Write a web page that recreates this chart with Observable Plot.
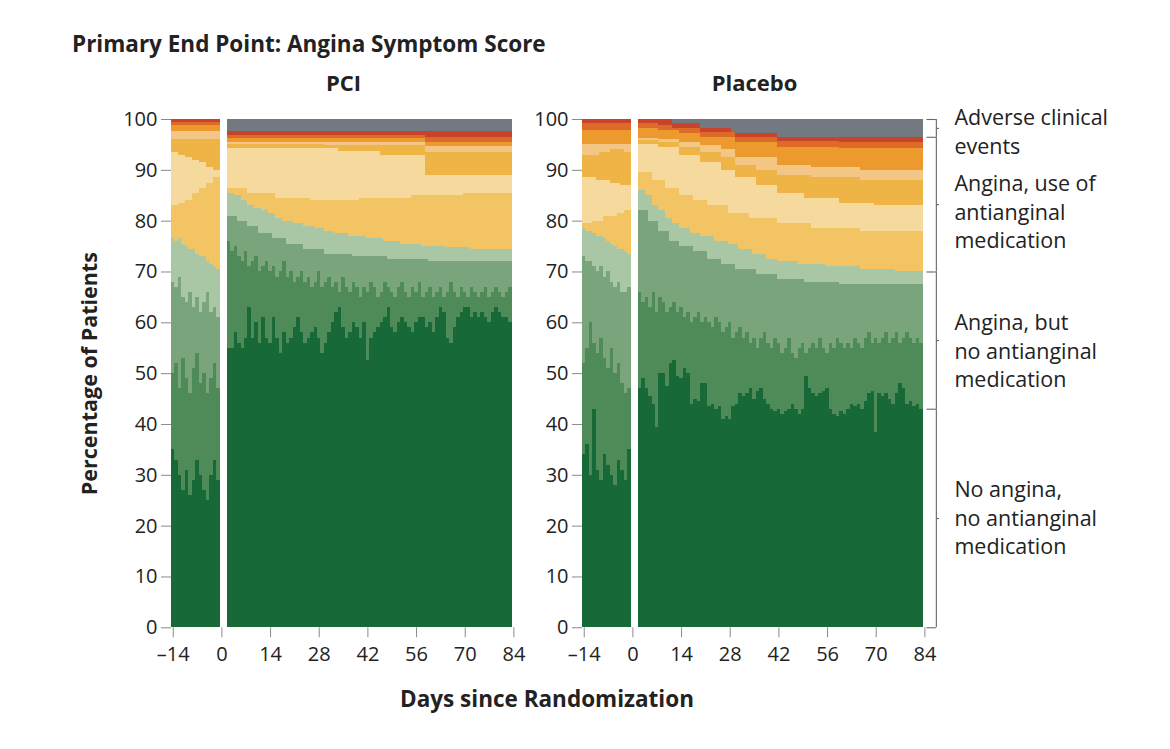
<!DOCTYPE html>
<html>
<head>
<meta charset="utf-8">
<script src="https://cdn.jsdelivr.net/npm/d3@7"></script>
<script src="https://cdn.jsdelivr.net/npm/@observablehq/plot@0.6"></script>
<style>
  html, body { margin: 0; padding: 0; background: #fff; }
  #wrap { position: relative; width: 1170px; height: 749px; overflow: hidden;
          font-family: "Open Sans", "Noto Sans", sans-serif; color: #222; }
  .abs { position: absolute; white-space: nowrap; line-height: 26px; }
  #title { left: 72px; top: 31px; font-weight: 700; font-size: 22.5px; }
  #xlabel { left: 547px; top: 686px; transform: translateX(-50%); font-weight: 700; font-size: 22.5px; }
</style>
</head>
<body>
<div id="wrap">
  <div id="title" class="abs">Primary End Point: Angina Symptom Score</div>
  <div id="xlabel" class="abs">Days since Randomization</div>
</div>
<script>
// ---------------- DATA ----------------
const panelTitles = ["PCI", "Placebo"];
const xTicks = [-14, 0, 14, 28, 42, 56, 70, 84];
const yTicks = [0, 10, 20, 30, 40, 50, 60, 70, 80, 90, 100];
const legendLabels = [
  "Adverse clinical\nevents",
  "Angina, use of\nantianginal\nmedication",
  "Angina, but\nno antianginal\nmedication",
  "No angina,\nno antianginal\nmedication"
];
// bands, bottom to top
const bandNames = [
  "No angina", "No med, low", "No med, mid", "No med, high",
  "Med 1", "Med 2", "Med 3", "Med 4", "Med 5", "Med 6", "Med 7",
  "Adverse clinical event"
];
const preDays = [-14, -13, -12, -11, -10, -9, -8, -7, -6, -5, -4, -3, -2, -1];
const postDays = d3.range(2, 84); // days 2..83

// cumulative tops (percent)
// PCI, run-in period
const pciPreNoAngina = [35, 33, 30, 27, 31, 26, 29, 33, 30, 27, 25, 30, 33, 29];
const pciPreNoMedLow = [50, 52, 47, 53, 49, 46, 51, 54, 48, 50, 46, 49, 52, 47];
const pciPreNoMedMid = [68, 67, 69, 65, 64, 66, 63, 65, 62, 64, 66, 62, 63, 61];
const pciPreNoMedHigh = [76.5, 76, 76.5, 75.5, 75, 74.5, 74.5, 73.5, 73, 73, 72, 71.5, 71, 70.5];
const pciPreMedRuns = [
  [[-14, 83], [-12, 83.5], [-10, 84], [-8, 85.5], [-6, 86.5], [-4, 87.5], [-2, 88.5]],
  [[-14, 93.5], [-12, 93], [-10, 92.5], [-8, 92], [-6, 91.5], [-4, 90.5], [-2, 90]],
  [[-14, 96]],
  [[-14, 97.6]],
  [[-14, 98.9]],
  [[-14, 99.5]],
  [[-14, 100]]
];
// PCI, after randomization
const pciPostNoAngina = [
  55, 55, 58, 56, 55, 57, 63, 57, 60, 56,
  61, 57, 56, 61, 57, 54, 58, 56, 57, 59,
  61, 58, 56, 57, 58, 59, 57, 54, 56, 58,
  60, 62, 63, 59, 57, 58, 60, 59, 57, 60,
  52.5, 57, 58, 59, 60, 61, 63, 59, 58, 60,
  61, 60, 59, 58, 60, 61, 61, 59, 60, 58,
  61, 63, 62, 57, 56, 59, 61, 62, 63, 63,
  61, 62, 61, 62, 61, 60, 62, 63, 62, 61,
  61, 60];
const pciPostNoMedLow = [
  76, 74, 75, 73, 72, 74, 71, 72, 73, 70,
  71, 72, 70, 71, 69, 70, 72, 69, 70, 68,
  69, 70, 68, 69, 67, 68, 70, 67, 68, 69,
  67, 68, 66, 69, 67, 66, 68, 67, 65, 67,
  66, 68, 67, 65, 66, 68, 67, 66, 65, 67,
  68, 66, 65, 67, 66, 68, 65, 66, 67, 65,
  66, 67, 65, 66, 68, 66, 65, 67, 66, 65,
  67, 66, 65, 66, 67, 65, 66, 67, 66, 65,
  66, 67];
const pciPostNoMedMidRuns = [[2, 81], [5, 80], [8, 79], [11, 77.5], [15, 76.5], [19, 75.5], [24, 74.5], [30, 73.5], [38, 73], [48, 72.5], [60, 72]];
const pciPostNoMedHighRuns = [[2, 85.5], [4, 85], [6, 84], [8, 83], [10, 82.5], [12, 82], [14, 81.5], [16, 80.5], [18, 80], [21, 79.5], [24, 79], [27, 78.5], [30, 78], [33, 77.5], [37, 77], [42, 76.5], [47, 76], [52, 75.5], [58, 75], [65, 74.8], [72, 74.5]];
const pciPostMedRuns = [
  [[2, 86.5], [8, 85.5], [16, 84.5], [26, 84], [40, 84.5], [55, 85], [70, 85.5]],
  [[2, 94.2], [34, 93.8], [46, 93], [59, 89]],
  [[2, 95], [30, 94.8], [59, 93.6]],
  [[2, 95.5], [59, 94.6]],
  [[2, 96.3], [59, 95.5]],
  [[2, 96.9], [59, 96.5]],
  [[2, 97.6]]
];
// Placebo, run-in period
const plaPreNoAngina = [34, 36, 30, 43, 31, 29, 34, 32, 30, 28, 33, 31, 29, 35];
const plaPreNoMedLow = [52, 55, 60, 56, 54, 57, 53, 51, 55, 50, 52, 48, 46, 47];
const plaPreNoMedMid = [73, 72, 72, 71, 70, 71, 69, 70, 68, 67, 68, 66, 66, 67];
const plaPreNoMedHigh = [78.5, 78, 78, 77.5, 77, 77, 76.5, 76, 75.5, 75, 74.5, 74.5, 74, 73.5];
const plaPreMedRuns = [
  [[-14, 79.5], [-11, 80], [-8, 81], [-4, 81.5], [-2, 82]],
  [[-14, 88.5], [-10, 88], [-6, 87.5], [-3, 87]],
  [[-14, 93], [-9, 93.5], [-6, 94], [-2, 93.5]],
  [[-14, 95]],
  [[-14, 97.8]],
  [[-14, 99.2]],
  [[-14, 100]]
];
// Placebo, after randomization
const plaPostNoAngina = [
  47, 49, 47, 45.5, 44, 39.5, 50, 50, 47.5, 52,
  52.5, 49.5, 49, 51, 50, 44, 45, 44.5, 48, 48,
  43.5, 44, 43, 43.5, 41, 41.5, 41, 43.5, 44, 46,
  45.5, 46, 47, 45, 46.5, 47, 45, 44, 43, 42.5,
  43, 42, 42.5, 43, 44, 43, 42, 43, 49.5, 47,
  46, 45.5, 46, 46.5, 47, 43, 42, 41.5, 42.5, 42,
  43, 44, 43.5, 44, 43, 44.5, 46, 46.5, 38.5, 46,
  45.5, 46, 45, 44, 46, 48, 47, 44, 44.5, 43.5,
  44, 43];
const plaPostNoMedLow = [
  66, 64, 65, 63, 66, 62, 65, 64, 62, 63,
  64, 62, 63, 61, 62, 60, 61, 62, 60, 61,
  60, 59, 61, 60, 58, 59, 60, 57, 58, 59,
  57, 58, 56, 57, 55, 57, 58, 56, 55, 57,
  56, 54, 55, 57, 54, 53, 55, 56, 54, 55,
  56, 55, 57, 55, 54, 56, 55, 57, 56, 55,
  56, 55, 57, 56, 55, 57, 58, 56, 57, 56,
  57, 58, 56, 57, 58, 56, 57, 58, 57, 56,
  57, 56];
const plaPostNoMedMidRuns = [[2, 82], [5, 80], [8, 78], [11, 76], [14, 75], [18, 74], [22, 72.5], [26, 71.5], [30, 70.5], [36, 69.5], [42, 68.5], [50, 68], [60, 67.5]];
const plaPostNoMedHighRuns = [[2, 86], [4, 85], [6, 83], [8, 82], [10, 80.5], [12, 79.5], [14, 78.5], [17, 77.5], [20, 77], [24, 76], [28, 75.5], [31, 74.5], [35, 73.5], [39, 72.5], [42, 72], [48, 71.5], [56, 71], [66, 70.5], [76, 70]];
const plaPostMedRuns = [
  [[2, 89.5], [6, 88], [10, 86.5], [14, 85], [18, 84], [22, 83], [28, 81.5], [34, 80.5], [42, 79.5], [52, 78.5], [66, 78]],
  [[2, 95], [8, 94.5], [14, 93], [20, 91.5], [26, 90], [30, 88.5], [36, 87], [42, 85.5], [50, 84.5], [60, 83.5], [70, 83]],
  [[2, 95.8], [8, 95.5], [14, 94.5], [20, 93.5], [26, 92.5], [30, 91], [36, 90], [42, 89], [52, 88.5], [66, 88]],
  [[2, 96.3], [8, 96], [14, 95.5], [20, 94.8], [26, 94], [30, 92.5], [42, 91], [52, 90.5], [66, 90]],
  [[2, 98.3], [8, 97.8], [14, 97.2], [20, 96.5], [30, 95.4], [42, 94.5], [60, 94.2]],
  [[2, 99.2], [8, 98.8], [12, 98.3], [20, 97.5], [30, 96.5], [42, 95.6], [60, 95.5]],
  [[2, 100], [12, 99.2], [20, 98.2], [29, 97.2], [42, 96.5]]
];

// ---------------- STYLE / LAYOUT ----------------
const bandColors = [
  "#176a38", "#4f8a59", "#7aa47c", "#a9c6a5",
  "#f2c463", "#f6da9d", "#efb446", "#f4c685", "#ec9a2e", "#de6a2a", "#c9432a",
  "#737980"
];
const fontFamily = '"Open Sans", "Noto Sans", sans-serif';
const pxPerDay = 3.476;
const xDomain = [-14.5, 84.5];
const plotW = (xDomain[1] - xDomain[0]) * pxPerDay;
const mLeft = 171, mTop = 119, H = 680, mBottom = H - 627.3;
const legendDyPx = [2, 6, 9, -2];

// ---------------- HELPERS ----------------
function fromRuns(days, runs) {
  return days.map(d => { let v = runs[0][1]; for (const [s, val] of runs) if (d >= s) v = val; return v; });
}
function stackRows(days, tops) {
  const rows = [];
  days.forEach((day, i) => {
    let lo = 0;
    tops.forEach((arr, b) => {
      const hi = Math.min(100, Math.max(lo, arr[i]));
      if (hi > lo) rows.push({day, band: bandNames[b], y1: lo, y2: hi});
      lo = hi;
    });
  });
  return rows;
}
function topsPre(days, g0, g1, g2, g3, medRuns) {
  return [g0, g1, g2, g3, ...medRuns.map(r => fromRuns(days, r)), days.map(() => 100)];
}
function topsPost(days, g0, g1, g2runs, g3runs, medRuns) {
  return [g0, g1, fromRuns(days, g2runs), fromRuns(days, g3runs), ...medRuns.map(r => fromRuns(days, r)), days.map(() => 100)];
}

const pciRows = [
  ...stackRows(preDays, topsPre(preDays, pciPreNoAngina, pciPreNoMedLow, pciPreNoMedMid, pciPreNoMedHigh, pciPreMedRuns)),
  ...stackRows(postDays, topsPost(postDays, pciPostNoAngina, pciPostNoMedLow, pciPostNoMedMidRuns, pciPostNoMedHighRuns, pciPostMedRuns))
];
const plaPostTops = topsPost(postDays, plaPostNoAngina, plaPostNoMedLow, plaPostNoMedMidRuns, plaPostNoMedHighRuns, plaPostMedRuns);
const plaRows = [
  ...stackRows(preDays, topsPre(preDays, plaPreNoAngina, plaPreNoMedLow, plaPreNoMedMid, plaPreNoMedHigh, plaPreMedRuns)),
  ...stackRows(postDays, plaPostTops)
];

const fmtX = d => d < 0 ? "\u2013" + Math.abs(d) : String(d);

function panel(rows, title, width, extra) {
  return Plot.plot({
    width, height: H,
    marginLeft: mLeft, marginRight: width - mLeft - plotW, marginTop: mTop, marginBottom: mBottom,
    style: {fontFamily, background: "transparent", overflow: "visible", color: "#222"},
    x: {domain: xDomain},
    y: {domain: [0, 100]},
    color: {type: "ordinal", domain: bandNames, range: bandColors},
    marks: [
      Plot.rect(rows, {x1: d => d.day - 0.5, x2: d => d.day + 0.5, y1: "y1", y2: "y2", fill: "band", shapeRendering: "crispEdges"}),
      Plot.axisX({ticks: xTicks, tickFormat: fmtX, tickSize: 10, tickPadding: 9, fontSize: 20, stroke: "#8a8a8a", fill: "#222", label: null}),
      Plot.axisY({ticks: yTicks, tickSize: 10, tickPadding: 4, fontSize: 20, stroke: "#8a8a8a", fill: "#222", label: null}),
      Plot.text([title], {frameAnchor: "top", dy: -36, lineAnchor: "middle", fontSize: 22, fontWeight: 700, fill: "#222"}),
      ...extra
    ]
  });
}

// y-axis title
const yTitle = Plot.text(["Percentage of Patients"], {frameAnchor: "left", dx: -81, rotate: -90, textAnchor: "middle", lineAnchor: "middle", fontSize: 21.5, fontWeight: 700, fill: "#222"});

// legend brackets (Placebo panel, at last day)
const last = postDays.length - 1;
const lastDay = postDays[last];
const bounds = [100, plaPostTops[10][last], plaPostTops[3][last], plaPostTops[0][last], 0];
const brX = lastDay + 4.3, brL = lastDay + 1.6, brR = lastDay + 5.2, lblX = lastDay + 9.5;
const segs = legendLabels.map((label, i) => ({label, top: bounds[i], bottom: bounds[i + 1], mid: (bounds[i] + bounds[i + 1]) / 2, dyv: legendDyPx[i] / 5.083}));
const legendMarks = [
  Plot.ruleX(segs, {x: () => brX, y1: "top", y2: "bottom", stroke: "#666", strokeWidth: 1.1}),
  Plot.ruleY(bounds, {x1: brL, x2: brX, stroke: "#666", strokeWidth: 1.1}),
  Plot.ruleY(segs, {y: "mid", x1: brX, x2: brR, stroke: "#666", strokeWidth: 1.1}),
  Plot.text(segs, {x: lblX, y: d => d.mid - d.dyv, text: "label", textAnchor: "start", lineAnchor: "middle", lineHeight: 1.32, fontSize: 21.5, fill: "#222"})
];

const wrap = document.getElementById("wrap");
const pciW = 540;
const pci = panel(pciRows, panelTitles[0], pciW, [yTitle]);
pci.style.position = "absolute"; pci.style.left = "0px"; pci.style.top = "0px";
wrap.appendChild(pci);

const plaLeft = 581.6 - mLeft;
const plaW = 1170 - plaLeft;
const pla = panel(plaRows, panelTitles[1], plaW, legendMarks);
pla.style.position = "absolute"; pla.style.left = plaLeft + "px"; pla.style.top = "0px";
wrap.appendChild(pla);
</script>
</body>
</html>
